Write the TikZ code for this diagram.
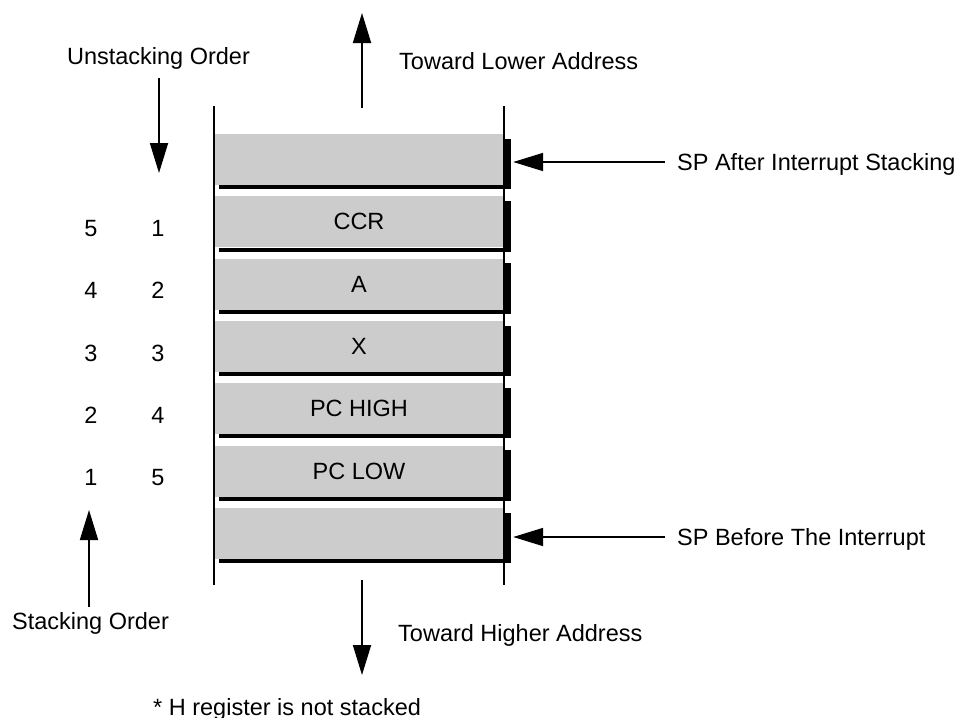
\documentclass[tikz,border=0pt]{standalone}
\usepackage{fontspec}
\setmainfont{Liberation Sans}
\usetikzlibrary{arrows.meta,calc}
\definecolor{cellgray}{HTML}{CCCCCC}
\begin{document}
\begin{tikzpicture}[x=1pt,y=-1pt,
  font=\fontsize{23.5}{28}\selectfont,
  cell/.style={fill=cellgray,draw=none,inner sep=0pt,minimum width=290pt,minimum height=51pt},
  lbl/.style={inner sep=0pt,anchor=base west},
  lblc/.style={inner sep=0pt,anchor=base},
  num/.style={inner sep=0pt,anchor=base},
  ptr/.style={line width=1.8pt,-{Triangle[length=30pt,width=18pt]}},
  rail/.style={line width=1.4pt}]
\useasboundingbox (0,0) rectangle (962,718);

% stack cells, top to bottom
\foreach \i/\t in {0/,1/CCR,2/A,3/X,4/PC HIGH,5/PC LOW,6/}{
  \node[cell] (c\i) at (359,{134+62.3*\i+25.5}) {\t};
  \fill[black] ($(c\i.south west)+(5,0)$) rectangle ($(c\i.south east)+(7,4)$);
  \fill[black] ($(c\i.north east)+(0,5)$) rectangle ($(c\i.south east)+(7,4)$);
}

% side rails of the stack
\coordinate (lt) at (214,106); \coordinate (lb) at (214,585);
\coordinate (rt) at (504,106); \coordinate (rb) at (504,585);
\draw[rail] (lt) -- (lb);
\draw[rail] (rt) -- (rb);

% address direction arrows
\coordinate (upS) at (362,108); \coordinate (upE) at (362,13);
\coordinate (dnS) at (362,580); \coordinate (dnE) at (362,675);
\draw[ptr] (upS) -- (upE);
\draw[ptr] (dnS) -- (dnE);
\node[lbl] (low) at (399,69.4) {Toward Lower Address};
\node[lbl] (high) at (398,641.9) {Toward Higher Address};

% stack pointer arrows
\coordinate (spa) at (665,162);
\coordinate (spb) at (665,537);
\draw[ptr] (spa) -- ($(spa -| c0.east)+(9,0)$);
\draw[ptr] (spb) -- ($(spb -| c6.east)+(9,0)$);
\node[lbl] (spaL) at (677,170.4) {SP After Interrupt Stacking};
\node[lbl] (spbL) at (677,545.4) {SP Before The Interrupt};

% order columns
\node[lblc] (uo) at (158.5,64.4) {Unstacking Order};
\coordinate (uoS) at (159,78); \coordinate (uoE) at (159,173);
\draw[ptr] (uoS) -- (uoE);
\node[lblc] (so) at (90.5,629.4) {Stacking Order};
\coordinate (soS) at (89,607); \coordinate (soE) at (89,510);
\draw[ptr] (soS) -- (soE);
\foreach \k/\a/\b in {0/5/1,1/4/2,2/3/3,3/2/4,4/1/5}{
  \node[num] (s\k) at (91,{236.4+62.3*\k}) {\a};
  \node[num] (u\k) at (158,{236.4+62.3*\k}) {\b};
}

\node[lbl] (note) at (153,715.5) {* H register is not stacked};
\end{tikzpicture}
\end{document}
